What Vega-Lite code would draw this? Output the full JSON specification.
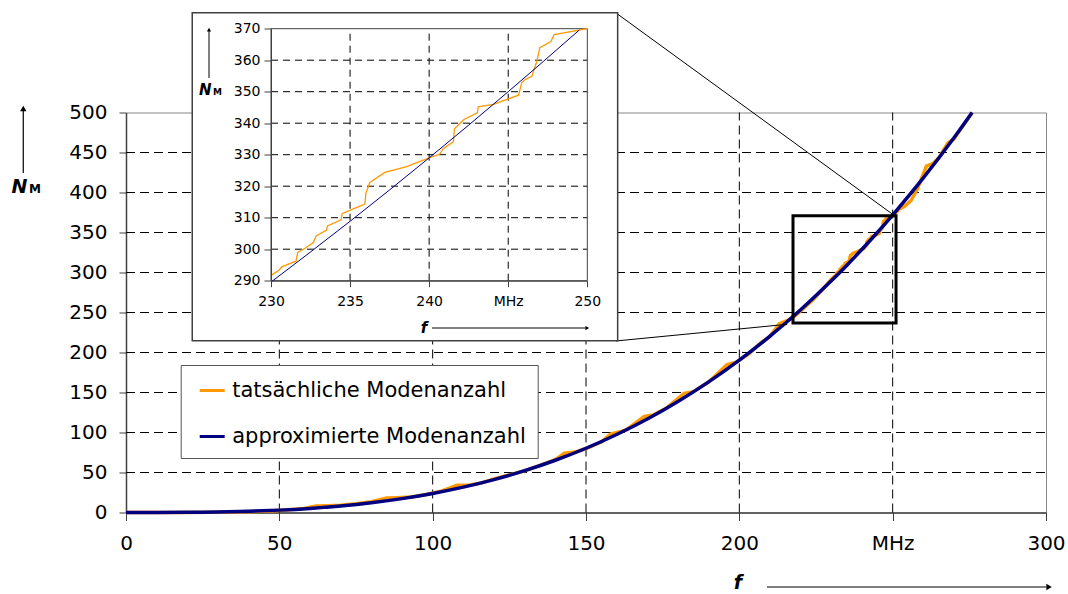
{
  "$schema": "https://vega.github.io/schema/vega-lite/v6.json",
  "width": 920,
  "height": 400,
  "autosize": {"type": "none"},
  "padding": {"left": 126, "top": 112.5, "right": 22, "bottom": 81.5},
  "background": "white",
  "config": {"view": {"stroke": "#888888", "strokeWidth": 1}, "font": "DejaVu Sans"},
  "datasets": {
    "actual": [
      {"f": 0, "n": 0}, {"f": 20, "n": 0}, {"f": 35, "n": 0.5}, {"f": 45, "n": 1.5}, {"f": 52, "n": 3},
      {"f": 58, "n": 5}, {"f": 62, "n": 8}, {"f": 66, "n": 8.5}, {"f": 70, "n": 9}, {"f": 75, "n": 11},
      {"f": 80, "n": 13.5}, {"f": 85, "n": 18}, {"f": 88, "n": 18.5}, {"f": 93, "n": 19.5}, {"f": 98, "n": 22.5},
      {"f": 103, "n": 27}, {"f": 108, "n": 34}, {"f": 112, "n": 34.5}, {"f": 116, "n": 37}, {"f": 120, "n": 42},
      {"f": 125, "n": 47}, {"f": 130, "n": 52}, {"f": 135, "n": 59}, {"f": 140, "n": 66}, {"f": 143, "n": 74},
      {"f": 147, "n": 76}, {"f": 150, "n": 80}, {"f": 155, "n": 88}, {"f": 158, "n": 98}, {"f": 163, "n": 103},
      {"f": 169, "n": 120}, {"f": 172, "n": 122}, {"f": 176, "n": 130}, {"f": 182, "n": 149}, {"f": 185, "n": 151},
      {"f": 190, "n": 163}, {"f": 196, "n": 185}, {"f": 199, "n": 188}, {"f": 203, "n": 198},
      {"f": 207, "n": 212}, {"f": 210, "n": 220}, {"f": 213, "n": 236}, {"f": 217, "n": 242}, {"f": 220, "n": 252},
      {"f": 224, "n": 266}, {"f": 227, "n": 278},
      {"f": 230, "n": 291.7}, {"f": 230.53, "n": 293.4}, {"f": 230.67, "n": 294.4}, {"f": 231.58, "n": 296.2},
      {"f": 231.69, "n": 299.0}, {"f": 232.15, "n": 300.3}, {"f": 232.68, "n": 302.1}, {"f": 232.85, "n": 304.2},
      {"f": 233.52, "n": 306.1}, {"f": 233.57, "n": 307.4}, {"f": 234.43, "n": 309.3}, {"f": 234.5, "n": 311.3},
      {"f": 235.2, "n": 312.8}, {"f": 235.94, "n": 314.3}, {"f": 236.0, "n": 317.8}, {"f": 236.25, "n": 321.2},
      {"f": 237.2, "n": 324.4}, {"f": 238.58, "n": 326.2}, {"f": 239.63, "n": 328.3}, {"f": 240.68, "n": 330.2},
      {"f": 240.9, "n": 332.0}, {"f": 241.53, "n": 334.1}, {"f": 241.6, "n": 338.2}, {"f": 242.2, "n": 341.2},
      {"f": 243.05, "n": 343.3}, {"f": 243.1, "n": 345.2}, {"f": 244.07, "n": 346.0}, {"f": 245.65, "n": 348.9},
      {"f": 245.86, "n": 352.9}, {"f": 246.03, "n": 353.7}, {"f": 246.5, "n": 355.0}, {"f": 246.8, "n": 359.5},
      {"f": 247.0, "n": 364.0}, {"f": 247.7, "n": 365.9}, {"f": 247.9, "n": 368.1}, {"f": 250, "n": 370},
      {"f": 252, "n": 379}, {"f": 254, "n": 383}, {"f": 256, "n": 390}, {"f": 258, "n": 404}, {"f": 261, "n": 433},
      {"f": 263, "n": 436}, {"f": 265, "n": 443}, {"f": 268, "n": 462}, {"f": 270, "n": 467},
      {"f": 272, "n": 478}, {"f": 274, "n": 489}, {"f": 276, "n": 500}
    ],
    "approx": [
      {"f": 0, "n": 0}, {"f": 10, "n": 0.02}, {"f": 20, "n": 0.19}, {"f": 30, "n": 0.64}, {"f": 40, "n": 1.52},
      {"f": 50, "n": 2.97}, {"f": 60, "n": 5.14}, {"f": 70, "n": 8.16}, {"f": 80, "n": 12.19}, {"f": 90, "n": 17.35},
      {"f": 100, "n": 23.8}, {"f": 110, "n": 31.68}, {"f": 120, "n": 41.12}, {"f": 130, "n": 52.29}, {"f": 140, "n": 65.3},
      {"f": 150, "n": 80.32}, {"f": 160, "n": 97.48}, {"f": 170, "n": 116.93}, {"f": 180, "n": 138.8}, {"f": 190, "n": 163.24},
      {"f": 200, "n": 190.39}, {"f": 210, "n": 220.4}, {"f": 220, "n": 253.41}, {"f": 230, "n": 289.56}, {"f": 235, "n": 308.86},
      {"f": 240, "n": 329.0}, {"f": 245, "n": 350.0}, {"f": 249.5, "n": 369.6}, {"f": 250, "n": 371.86}, {"f": 260, "n": 418.29},
      {"f": 270, "n": 468.43}, {"f": 275.9, "n": 500}
    ],
    "grid_f": [{"f": 50}, {"f": 100}, {"f": 150}, {"f": 200}, {"f": 250}],
    "grid_n": [{"n": 50}, {"n": 100}, {"n": 150}, {"n": 200}, {"n": 250}, {"n": 300}, {"n": 350}, {"n": 400}, {"n": 450}],
    "inset_grid_f": [{"f": 235}, {"f": 240}, {"f": 245}],
    "inset_grid_n": [{"n": 300}, {"n": 310}, {"n": 320}, {"n": 330}, {"n": 340}, {"n": 350}, {"n": 360}],
    "one": [{}]
  },
  "layer": [
    {
      "data": {"name": "grid_f"},
      "mark": {"type": "rule", "color": "#000000", "strokeWidth": 1, "strokeDash": [9, 5]},
      "encoding": {
        "x": {"field": "f", "type": "quantitative", "scale": {"domain": [0, 300], "nice": false, "zero": false}, "axis": null},
        "y": {"datum": 0, "type": "quantitative", "scale": {"domain": [0, 500], "nice": false, "zero": false}, "axis": null},
        "y2": {"datum": 500}
      }
    },
    {
      "data": {"name": "grid_n"},
      "mark": {"type": "rule", "color": "#000000", "strokeWidth": 1, "strokeDash": [9, 5]},
      "encoding": {
        "x": {"datum": 0, "type": "quantitative", "scale": {"domain": [0, 300], "nice": false, "zero": false}, "axis": null},
        "x2": {"datum": 300},
        "y": {"field": "n", "type": "quantitative", "scale": {"domain": [0, 500], "nice": false, "zero": false}, "axis": null}
      }
    },
    {
      "data": {"name": "actual"},
      "mark": {"type": "line", "strokeWidth": 3.5},
      "encoding": {
        "x": {"field": "f", "type": "quantitative", "scale": {"domain": [0, 300], "nice": false, "zero": false},
          "axis": {"orient": "bottom", "values": [0, 50, 100, 150, 200, 250, 300], "title": null,
            "labelExpr": "datum.value == 250 ? 'MHz' : datum.label", "grid": false,
            "tickSize": 8, "tickColor": "#404040", "domainColor": "#404040", "domainWidth": 1.5,
            "labelFont": "DejaVu Sans", "labelFontSize": 20, "labelColor": "#000000", "labelPadding": 13,
            "labelFlush": false, "labelOverlap": false, "labelBound": false}},
        "y": {"field": "n", "type": "quantitative", "scale": {"domain": [0, 500], "nice": false, "zero": false},
          "axis": {"orient": "left", "values": [0, 50, 100, 150, 200, 250, 300, 350, 400, 450, 500], "title": null,
            "grid": false, "tickSize": 7, "tickColor": "#404040", "domainColor": "#404040", "domainWidth": 1.5,
            "labelFont": "DejaVu Sans", "labelFontSize": 20, "labelColor": "#000000", "labelPadding": 12,
            "labelFlush": false, "labelOverlap": false, "labelBound": false}},
        "color": {"datum": "tatsächliche Modenanzahl", "type": "nominal",
          "scale": {"domain": ["tatsächliche Modenanzahl", "approximierte Modenanzahl"], "range": ["#FF9900", "#000080"]},
          "legend": {"title": null, "orient": "none", "legendX": 54.7, "legendY": 252.5,
            "symbolType": "stroke", "symbolSize": 625, "symbolStrokeWidth": 3, "symbolOffset": 6,
            "labelFont": "DejaVu Sans", "labelFontSize": 21, "labelColor": "#000000", "labelOffset": 6,
            "rowPadding": 22, "padding": 11.5, "strokeColor": "#555555", "fillColor": "#FFFFFF", "labelLimit": 400}}
      }
    },
    {
      "data": {"name": "approx"},
      "mark": {"type": "line", "strokeWidth": 3.5, "interpolate": "monotone"},
      "encoding": {
        "x": {"field": "f", "type": "quantitative", "scale": {"domain": [0, 300], "nice": false, "zero": false}, "axis": null},
        "y": {"field": "n", "type": "quantitative", "scale": {"domain": [0, 500], "nice": false, "zero": false}, "axis": null},
        "color": {"datum": "approximierte Modenanzahl", "type": "nominal",
          "scale": {"domain": ["tatsächliche Modenanzahl", "approximierte Modenanzahl"], "range": ["#FF9900", "#000080"]},
          "legend": null}
      }
    },
    {
      "data": {"name": "one"},
      "mark": {"type": "rect", "filled": false, "color": "#000000", "strokeWidth": 3},
      "encoding": {
        "x": {"datum": 217.5, "type": "quantitative", "scale": {"domain": [0, 300], "nice": false, "zero": false}, "axis": null},
        "x2": {"datum": 251.1},
        "y": {"datum": 371.0, "type": "quantitative", "scale": {"domain": [0, 500], "nice": false, "zero": false}, "axis": null},
        "y2": {"datum": 236.9}
      }
    },
    {
      "data": {"name": "one"},
      "mark": {"type": "rule", "color": "#000000", "strokeWidth": 1},
      "encoding": {
        "x": {"datum": 159.8, "type": "quantitative", "scale": {"domain": [0, 300], "nice": false, "zero": false}, "axis": null},
        "x2": {"datum": 250.0},
        "y": {"datum": 624.4, "type": "quantitative", "scale": {"domain": [0, 500], "nice": false, "zero": false}, "axis": null},
        "y2": {"datum": 372.75}
      }
    },
    {
      "data": {"name": "one"},
      "mark": {"type": "rule", "color": "#000000", "strokeWidth": 1},
      "encoding": {
        "x": {"datum": 159.8, "type": "quantitative", "scale": {"domain": [0, 300], "nice": false, "zero": false}, "axis": null},
        "x2": {"datum": 215.6},
        "y": {"datum": 214.4, "type": "quantitative", "scale": {"domain": [0, 500], "nice": false, "zero": false}, "axis": null},
        "y2": {"datum": 235.25}
      }
    },
    {
      "data": {"name": "one"},
      "mark": {"type": "rule", "color": "#000000", "strokeWidth": 1.2},
      "encoding": {
        "x": {"datum": -33.5, "type": "quantitative", "scale": {"domain": [0, 300], "nice": false, "zero": false}, "axis": null},
        "y": {"datum": 424.4, "type": "quantitative", "scale": {"domain": [0, 500], "nice": false, "zero": false}, "axis": null},
        "y2": {"datum": 504}
      }
    },
    {
      "data": {"name": "one"},
      "mark": {"type": "point", "shape": "triangle-up", "filled": true, "color": "#000000", "size": 40, "opacity": 1},
      "encoding": {
        "x": {"datum": -33.5, "type": "quantitative", "scale": {"domain": [0, 300], "nice": false, "zero": false}, "axis": null},
        "y": {"datum": 504.9, "type": "quantitative", "scale": {"domain": [0, 500], "nice": false, "zero": false}, "axis": null}
      }
    },
    {
      "data": {"name": "one"},
      "mark": {"type": "rule", "color": "#000000", "strokeWidth": 1.2},
      "encoding": {
        "x": {"datum": 209.0, "type": "quantitative", "scale": {"domain": [0, 300], "nice": false, "zero": false}, "axis": null},
        "x2": {"datum": 300},
        "y": {"datum": -93.1, "type": "quantitative", "scale": {"domain": [0, 500], "nice": false, "zero": false}, "axis": null}
      }
    },
    {
      "data": {"name": "one"},
      "mark": {"type": "point", "shape": "triangle-right", "filled": true, "color": "#000000", "size": 40, "opacity": 1},
      "encoding": {
        "x": {"datum": 301.0, "type": "quantitative", "scale": {"domain": [0, 300], "nice": false, "zero": false}, "axis": null},
        "y": {"datum": -93.1, "type": "quantitative", "scale": {"domain": [0, 500], "nice": false, "zero": false}, "axis": null}
      }
    },
    {
      "data": {"name": "one"},
      "mark": {"type": "text", "text": "N", "font": "DejaVu Sans", "fontSize": 19, "fontStyle": "italic", "fontWeight": "bold", "align": "left", "baseline": "alphabetic", "color": "#000000"},
      "encoding": {
        "x": {"datum": -37.3, "type": "quantitative", "scale": {"domain": [0, 300], "nice": false, "zero": false}, "axis": null},
        "y": {"datum": 399.0, "type": "quantitative", "scale": {"domain": [0, 500], "nice": false, "zero": false}, "axis": null}
      }
    },
    {
      "data": {"name": "one"},
      "mark": {"type": "text", "text": "M", "font": "DejaVu Sans", "fontSize": 12, "fontWeight": "bold", "align": "left", "baseline": "alphabetic", "color": "#000000"},
      "encoding": {
        "x": {"datum": -31.6, "type": "quantitative", "scale": {"domain": [0, 300], "nice": false, "zero": false}, "axis": null},
        "y": {"datum": 399.0, "type": "quantitative", "scale": {"domain": [0, 500], "nice": false, "zero": false}, "axis": null}
      }
    },
    {
      "data": {"name": "one"},
      "mark": {"type": "text", "text": "f", "font": "DejaVu Sans", "fontSize": 19, "fontStyle": "italic", "fontWeight": "bold", "align": "center", "baseline": "alphabetic", "color": "#000000"},
      "encoding": {
        "x": {"datum": 199.5, "type": "quantitative", "scale": {"domain": [0, 300], "nice": false, "zero": false}, "axis": null},
        "y": {"datum": -95.5, "type": "quantitative", "scale": {"domain": [0, 500], "nice": false, "zero": false}, "axis": null}
      }
    },
    {
      "data": {"name": "one"},
      "mark": {"type": "rect", "fill": "#FFFFFF", "stroke": "#404040", "strokeWidth": 1.5},
      "encoding": {
        "x": {"datum": 225.02, "type": "quantitative", "scale": {"domain": [230, 250], "range": [145, 461.3], "nice": false, "zero": false},
          "axis": {"orient": "bottom", "offset": -231.8, "values": [230, 235, 240, 245, 250], "title": null,
            "labelExpr": "datum.value == 245 ? 'MHz' : datum.label", "grid": false,
            "tickSize": 6, "tickColor": "#404040", "domainColor": "#404040",
            "labelFont": "DejaVu Sans", "labelFontSize": 14, "labelColor": "#000000", "labelPadding": 8,
            "labelFlush": false, "labelOverlap": false, "labelBound": false, "zindex": 1}},
        "x2": {"datum": 251.92},
        "y": {"datum": 375.08, "type": "quantitative", "scale": {"domain": [290, 370], "range": [168.2, -83.8], "nice": false, "zero": false},
          "axis": {"orient": "left", "offset": -145, "values": [290, 300, 310, 320, 330, 340, 350, 360, 370], "title": null,
            "grid": false, "tickSize": 7, "tickColor": "#404040", "domainColor": "#404040",
            "labelFont": "DejaVu Sans", "labelFontSize": 14, "labelColor": "#000000", "labelPadding": 4,
            "labelFlush": false, "labelOverlap": false, "labelBound": false, "zindex": 1}},
        "y2": {"datum": 270.95}
      }
    },
    {
      "data": {"name": "inset_grid_f"},
      "mark": {"type": "rule", "color": "#000000", "strokeWidth": 1, "strokeDash": [7, 5]},
      "encoding": {
        "x": {"field": "f", "type": "quantitative", "scale": {"domain": [230, 250], "range": [145, 461.3], "nice": false, "zero": false}, "axis": null},
        "y": {"datum": 290, "type": "quantitative", "scale": {"domain": [290, 370], "range": [168.2, -83.8], "nice": false, "zero": false}, "axis": null},
        "y2": {"datum": 370}
      }
    },
    {
      "data": {"name": "inset_grid_n"},
      "mark": {"type": "rule", "color": "#000000", "strokeWidth": 1, "strokeDash": [7, 5]},
      "encoding": {
        "x": {"datum": 230, "type": "quantitative", "scale": {"domain": [230, 250], "range": [145, 461.3], "nice": false, "zero": false}, "axis": null},
        "x2": {"datum": 250},
        "y": {"field": "n", "type": "quantitative", "scale": {"domain": [290, 370], "range": [168.2, -83.8], "nice": false, "zero": false}, "axis": null}
      }
    },
    {
      "data": {"name": "one"},
      "mark": {"type": "rect", "filled": false, "color": "#404040", "strokeWidth": 1},
      "encoding": {
        "x": {"datum": 230, "type": "quantitative", "scale": {"domain": [230, 250], "range": [145, 461.3], "nice": false, "zero": false}, "axis": null},
        "x2": {"datum": 250},
        "y": {"datum": 370, "type": "quantitative", "scale": {"domain": [290, 370], "range": [168.2, -83.8], "nice": false, "zero": false}, "axis": null},
        "y2": {"datum": 290}
      }
    },
    {
      "data": {"name": "actual"},
      "transform": [{"filter": "datum.f >= 230 && datum.f <= 250"}],
      "mark": {"type": "line", "color": "#FF9900", "strokeWidth": 1.3},
      "encoding": {
        "x": {"field": "f", "type": "quantitative", "scale": {"domain": [230, 250], "range": [145, 461.3], "nice": false, "zero": false}, "axis": null},
        "y": {"field": "n", "type": "quantitative", "scale": {"domain": [290, 370], "range": [168.2, -83.8], "nice": false, "zero": false}, "axis": null}
      }
    },
    {
      "data": {"name": "approx"},
      "transform": [{"filter": "datum.f >= 230 && datum.f <= 249.5"}],
      "mark": {"type": "line", "color": "#000080", "strokeWidth": 1, "interpolate": "monotone"},
      "encoding": {
        "x": {"field": "f", "type": "quantitative", "scale": {"domain": [230, 250], "range": [145, 461.3], "nice": false, "zero": false}, "axis": null},
        "y": {"field": "n", "type": "quantitative", "scale": {"domain": [290, 370], "range": [168.2, -83.8], "nice": false, "zero": false}, "axis": null}
      }
    },
    {
      "data": {"name": "one"},
      "mark": {"type": "rule", "color": "#000000", "strokeWidth": 1},
      "encoding": {
        "x": {"datum": 226.08, "type": "quantitative", "scale": {"domain": [230, 250], "range": [145, 461.3], "nice": false, "zero": false}, "axis": null},
        "y": {"datum": 354.35, "type": "quantitative", "scale": {"domain": [290, 370], "range": [168.2, -83.8], "nice": false, "zero": false}, "axis": null},
        "y2": {"datum": 369.3}
      }
    },
    {
      "data": {"name": "one"},
      "mark": {"type": "point", "shape": "triangle-up", "filled": true, "color": "#000000", "size": 18, "opacity": 1},
      "encoding": {
        "x": {"datum": 226.08, "type": "quantitative", "scale": {"domain": [230, 250], "range": [145, 461.3], "nice": false, "zero": false}, "axis": null},
        "y": {"datum": 369.7, "type": "quantitative", "scale": {"domain": [290, 370], "range": [168.2, -83.8], "nice": false, "zero": false}, "axis": null}
      }
    },
    {
      "data": {"name": "one"},
      "mark": {"type": "rule", "color": "#000000", "strokeWidth": 1},
      "encoding": {
        "x": {"datum": 240.18, "type": "quantitative", "scale": {"domain": [230, 250], "range": [145, 461.3], "nice": false, "zero": false}, "axis": null},
        "x2": {"datum": 249.9},
        "y": {"datum": 274.98, "type": "quantitative", "scale": {"domain": [290, 370], "range": [168.2, -83.8], "nice": false, "zero": false}, "axis": null}
      }
    },
    {
      "data": {"name": "one"},
      "mark": {"type": "point", "shape": "triangle-right", "filled": true, "color": "#000000", "size": 18, "opacity": 1},
      "encoding": {
        "x": {"datum": 250.0, "type": "quantitative", "scale": {"domain": [230, 250], "range": [145, 461.3], "nice": false, "zero": false}, "axis": null},
        "y": {"datum": 274.98, "type": "quantitative", "scale": {"domain": [290, 370], "range": [168.2, -83.8], "nice": false, "zero": false}, "axis": null}
      }
    },
    {
      "data": {"name": "one"},
      "mark": {"type": "text", "text": "N", "font": "DejaVu Sans", "fontSize": 15, "fontStyle": "italic", "fontWeight": "bold", "align": "left", "baseline": "alphabetic", "color": "#000000"},
      "encoding": {
        "x": {"datum": 225.45, "type": "quantitative", "scale": {"domain": [230, 250], "range": [145, 461.3], "nice": false, "zero": false}, "axis": null},
        "y": {"datum": 348.95, "type": "quantitative", "scale": {"domain": [290, 370], "range": [168.2, -83.8], "nice": false, "zero": false}, "axis": null}
      }
    },
    {
      "data": {"name": "one"},
      "mark": {"type": "text", "text": "M", "font": "DejaVu Sans", "fontSize": 9, "fontWeight": "bold", "align": "left", "baseline": "alphabetic", "color": "#000000"},
      "encoding": {
        "x": {"datum": 226.33, "type": "quantitative", "scale": {"domain": [230, 250], "range": [145, 461.3], "nice": false, "zero": false}, "axis": null},
        "y": {"datum": 348.95, "type": "quantitative", "scale": {"domain": [290, 370], "range": [168.2, -83.8], "nice": false, "zero": false}, "axis": null}
      }
    },
    {
      "data": {"name": "one"},
      "mark": {"type": "text", "text": "f", "font": "DejaVu Sans", "fontSize": 15, "fontStyle": "italic", "fontWeight": "bold", "align": "center", "baseline": "alphabetic", "color": "#000000"},
      "encoding": {
        "x": {"datum": 239.67, "type": "quantitative", "scale": {"domain": [230, 250], "range": [145, 461.3], "nice": false, "zero": false}, "axis": null},
        "y": {"datum": 273.4, "type": "quantitative", "scale": {"domain": [290, 370], "range": [168.2, -83.8], "nice": false, "zero": false}, "axis": null}
      }
    }
  ],
  "resolve": {
    "scale": {"x": "independent", "y": "independent"},
    "axis": {"x": "independent", "y": "independent"}
  }
}
